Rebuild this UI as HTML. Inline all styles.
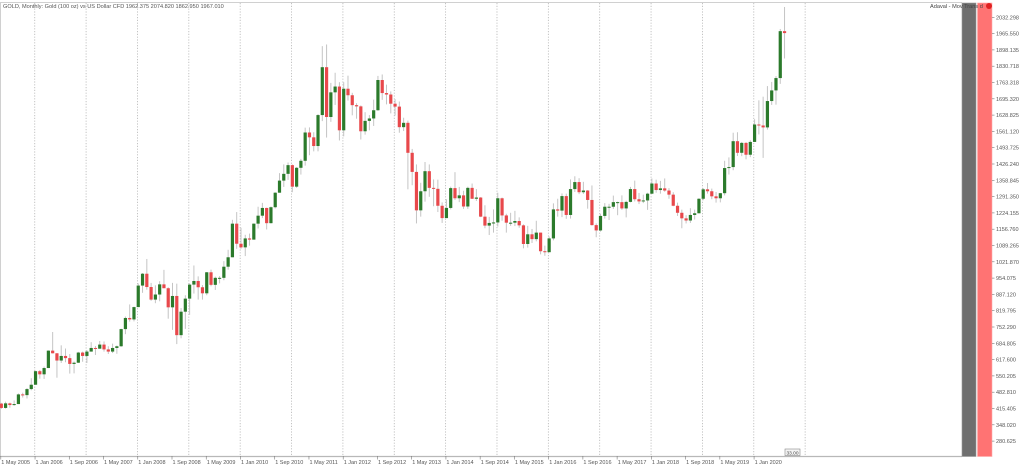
<!DOCTYPE html>
<html><head><meta charset="utf-8"><style>
html,body{margin:0;padding:0;background:#fff;}
svg{display:block;font-family:"Liberation Sans",sans-serif;}
</style></head><body>
<svg id="c" width="1024" height="467" viewBox="0 0 1024 467" xmlns="http://www.w3.org/2000/svg">
<rect x="0" y="0" width="1024" height="467" fill="#fff"/>
<line x1="0" y1="2.5" x2="962" y2="2.5" stroke="#d0d0d0" stroke-width="1"/>
<line x1="0.5" y1="2.5" x2="0.5" y2="456" stroke="#d0d0d0" stroke-width="1"/>
<g id="grid"></g>
<g id="candles"></g>
<line x1="0" y1="456.5" x2="962" y2="456.5" stroke="#b8b8b8" stroke-width="1.2"/>
<rect x="962" y="3" width="14" height="453.5" fill="#6f6f6f" stroke="#9a9a9a" stroke-width="0.6"/>
<rect x="977.5" y="3" width="14.5" height="453.5" fill="#ff7373" stroke="#ffaaaa" stroke-width="0.6"/>
<text x="3" y="8" font-size="5.6" fill="#555">GOLD, Monthly:  Gold (100 oz) vs US Dollar CFD  1962.375  2074.820  1862.950  1967.010</text>
<text x="930" y="8" font-size="5.6" fill="#444">Adaval - Mov Trans d</text>
<circle cx="989" cy="6" r="3" fill="#e02020"/>
<g id="yax" font-size="5.5" fill="#555"></g>
<g id="xax" font-size="5.5" fill="#555"></g>
<rect x="785" y="449" width="15" height="6.5" fill="#f4f4f4" stroke="#888" stroke-width="0.6"/>
<text x="786.5" y="454.3" font-size="4.8" fill="#444">33.00</text>
<g font-size="5.5" fill="#555">
<text x="996" y="19.3">2032.298</text><text x="996" y="35.6">1965.550</text><text x="996" y="51.9">1898.135</text><text x="996" y="68.2">1830.718</text><text x="996" y="84.5">1763.318</text><text x="996" y="100.8">1695.320</text><text x="996" y="117.1">1628.825</text><text x="996" y="133.4">1561.120</text><text x="996" y="149.7">1493.725</text><text x="996" y="166.0">1426.240</text><text x="996" y="182.3">1358.845</text><text x="996" y="198.6">1291.350</text><text x="996" y="214.9">1224.155</text><text x="996" y="231.2">1156.760</text><text x="996" y="247.5">1089.265</text><text x="996" y="263.8">1021.870</text><text x="996" y="280.1">954.075</text><text x="996" y="296.4">887.120</text><text x="996" y="312.7">819.795</text><text x="996" y="329.0">752.290</text><text x="996" y="345.3">684.805</text><text x="996" y="361.6">617.600</text><text x="996" y="377.9">550.205</text><text x="996" y="394.2">482.810</text><text x="996" y="410.5">415.405</text><text x="996" y="426.8">348.020</text><text x="996" y="443.1">280.625</text>
</g>
<g font-size="5.5" fill="#555">
<text x="1.3" y="464">1 May 2005</text><text x="35.5" y="464">1 Jan 2006</text><text x="69.8" y="464">1 Sep 2006</text><text x="104.0" y="464">1 May 2007</text><text x="138.3" y="464">1 Jan 2008</text><text x="172.5" y="464">1 Sep 2008</text><text x="206.7" y="464">1 May 2009</text><text x="241.0" y="464">1 Jan 2010</text><text x="275.2" y="464">1 Sep 2010</text><text x="309.5" y="464">1 May 2011</text><text x="343.7" y="464">1 Jan 2012</text><text x="378.0" y="464">1 Sep 2012</text><text x="412.2" y="464">1 May 2013</text><text x="446.4" y="464">1 Jan 2014</text><text x="480.7" y="464">1 Sep 2014</text><text x="514.9" y="464">1 May 2015</text><text x="549.2" y="464">1 Jan 2016</text><text x="583.4" y="464">1 Sep 2016</text><text x="617.7" y="464">1 May 2017</text><text x="651.9" y="464">1 Jan 2018</text><text x="686.1" y="464">1 Sep 2018</text><text x="720.4" y="464">1 May 2019</text><text x="754.6" y="464">1 Jan 2020</text>
</g>
</svg>
<script>
(function(){
var NS="http://www.w3.org/2000/svg";
function el(n,a,p){var e=document.createElementNS(NS,n);for(var k in a)e.setAttribute(k,a[k]);p.appendChild(e);return e;}
function Y(p){return 17.3+(2032.3-p)/4.135;}
function X(i){return 0.3+4.28*i;}
var grid=document.getElementById('grid');
for(var k=0;k<16;k++){var x=X(8+12*k)+0.2;el('line',{x1:x,y1:3,x2:x,y2:456,stroke:'#b5b5b5','stroke-width':0.8,'stroke-dasharray':'1.2,1.6'},grid);}
var yax=document.getElementById('yax');
for(var j=0;j<27;j++){var yy=17.3+16.3*j;el('line',{x1:992,y1:yy,x2:994.5,y2:yy,stroke:'#777','stroke-width':0.6},yax);}
var xax=document.getElementById('xax');
for(var j=0;j<23;j++){var xx=X(8*j)+0.5;el('line',{x1:xx,y1:456,x2:xx,y2:459.5,stroke:'#777','stroke-width':0.6},xax);}
var d="435,438,413,417;417,443,414,436;436,439,418,429;429,448,426,433;433,477,433,473;473,480,460,470;470,499,456,495;495,540,490,513;"+
"513,571,513,569;569,574,538,556;556,588,537,582;582,655,582,654;654,731,642,643;643,644,542,613;613,676,603,632;632,663,606,623;623,640,559,599;599,609,560,604;604,649,603,646;646,650,608,632;"+
"632,656,603,650;650,689,650,665;665,673,636,662;662,694,662,679;679,692,650,659;659,672,640,650;650,683,644,665;665,675,641,672;672,745,670,743;743,795,722,789;789,845,774,783;783,836,775,834;"+
"834,932,834,923;923,975,893,972;972,1033,906,917;917,934,860,865;865,924,850,886;886,941,858,928;928,988,913,912;912,916,786,833;833,934,740,880;880,931,681,718;718,830,705,815;815,883,744,869;"+
"869,932,802,927;927,1006,890,942;942,961,865,916;916,925,865,891;891,979,883,978;978,989,920,926;926,960,905,955;955,962,932,955;955,1024,945,1001;1001,1071,989,1040;1040,1195,1040,1179;1179,1227,1075,1096;"+
"1096,1162,1075,1081;1081,1133,1045,1118;1118,1138,1088,1113;1113,1180,1113,1179;1179,1249,1159,1212;1212,1265,1202,1244;1244,1245,1155,1181;1181,1250,1180,1247;1247,1309,1242,1307;1307,1388,1307,1357;1357,1424,1331,1385;1385,1432,1360,1421;"+
"1421,1424,1309,1332;1332,1413,1327,1410;1410,1447,1382,1439;1439,1576,1419,1556;1556,1577,1462,1536;1536,1557,1478,1500;1500,1632,1478,1628;1628,1913,1603,1826;1826,1920,1535,1620;1620,1761,1600,1722;1722,1803,1670,1746;1746,1764,1523,1565;"+
"1565,1764,1540,1737;1737,1791,1688,1710;1710,1720,1627,1669;1669,1677,1613,1664;1664,1668,1527,1561;1561,1640,1547,1604;1604,1628,1565,1614;1614,1692,1583,1648;1648,1790,1646,1773;1773,1796,1691,1719;1719,1754,1672,1713;1713,1726,1635,1675;"+
"1675,1694,1626,1663;1663,1684,1555,1578;1578,1617,1562,1596;1596,1605,1321,1472;1472,1488,1338,1393;1393,1424,1180,1234;1234,1348,1208,1313;1313,1434,1270,1396;1396,1424,1290,1327;1327,1362,1251,1323;1323,1361,1227,1253;1253,1267,1182,1202;"+
"1202,1280,1202,1244;1244,1332,1238,1326;1326,1392,1277,1284;1284,1331,1268,1296;1296,1315,1240,1250;1250,1332,1240,1327;1327,1345,1281,1282;1282,1322,1273,1287;1287,1289,1206,1208;1208,1255,1160,1171;1171,1207,1132,1182;1182,1238,1142,1184;"+
"1184,1307,1167,1284;1284,1287,1191,1213;1213,1220,1142,1183;1183,1224,1170,1183;1183,1232,1169,1190;1190,1205,1162,1172;1172,1176,1077,1095;1095,1170,1080,1135;1135,1157,1099,1115;1115,1191,1106,1142;1142,1142,1052,1065;1065,1088,1046,1061;"+
"1061,1126,1061,1118;1118,1263,1110,1238;1238,1282,1208,1233;1233,1304,1206,1293;1293,1303,1199,1215;1215,1362,1200,1322;1322,1375,1310,1351;1351,1367,1301,1309;1309,1352,1302,1316;1316,1318,1241,1277;1277,1337,1171,1173;1173,1180,1123,1151;"+
"1151,1220,1146,1211;1211,1264,1200,1249;1249,1261,1194,1249;1249,1295,1240,1268;1268,1270,1214,1268;1268,1296,1236,1242;1242,1274,1205,1269;1269,1331,1267,1322;1322,1357,1271,1280;1280,1306,1260,1271;1271,1299,1264,1275;1275,1307,1236,1303;"+
"1303,1366,1302,1345;1345,1361,1307,1318;1318,1356,1303,1325;1325,1366,1311,1316;1316,1326,1282,1299;1299,1309,1251,1253;1253,1266,1211,1224;1224,1237,1160,1201;1201,1214,1180,1192;1192,1243,1182,1215;1215,1237,1196,1222;1222,1284,1221,1282;"+
"1282,1326,1276,1321;1321,1347,1303,1313;1313,1324,1280,1292;1292,1310,1266,1284;1284,1306,1267,1305;1305,1439,1296,1409;1409,1453,1382,1413;1413,1555,1400,1520;1520,1557,1459,1472;1472,1517,1458,1513;1513,1516,1445,1464;1464,1524,1454,1517;"+
"1517,1611,1517,1589;1589,1689,1548,1585;1585,1704,1451,1577;1577,1748,1568,1686;1686,1765,1670,1730;1730,1789,1671,1781;1781,1984,1757,1975;1975,2075,1862,1967";
var rows=d.split(';');var g=document.getElementById('candles');
var wicks='',bodies='';
for(var i=0;i<rows.length;i++){
 var v=rows[i].split(',').map(Number);var o=v[0],h=v[1],l=v[2],c=v[3];
 var x=X(i)+1;
 el('line',{x1:x,y1:Y(h),x2:x,y2:Y(l),stroke:'#c4c4c4','stroke-width':1},g);
}
for(var i=0;i<rows.length;i++){
 var v=rows[i].split(',').map(Number);var o=v[0],h=v[1],l=v[2],c=v[3];
 var x=X(i)+1;var y1=Y(Math.max(o,c)),y2=Y(Math.min(o,c));var hh=Math.max(1,y2-y1);
 var up=c>=o;
 el('rect',{x:x-1.6,y:y1,width:3.2,height:hh,fill:up?'#2b7a2b':'#e8484b'},g);
}
})();
</script>
</body></html>
